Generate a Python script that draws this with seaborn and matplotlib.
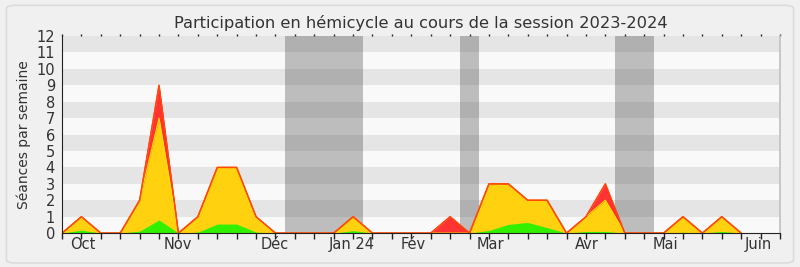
import matplotlib
matplotlib.use("Agg")
import matplotlib.pyplot as plt
import seaborn as sns
import pandas as pd
import numpy as np
from matplotlib.patches import FancyBboxPatch

# ---- data (weekly) ----
weeks = list(range(36))
total = [0, 1, 0, 0, 2, 9, 0, 1, 4, 4, 1, 0, 0, 0, 0, 1, 0, 0, 0, 0, 1, 0,
         3, 3, 2, 2, 0, 1, 3, 0, 0, 0, 1, 0, 1, 0]
yellow = [0, 1, 0, 0, 2, 7, 0, 1, 4, 4, 1, 0, 0, 0, 0, 1, 0, 0, 0, 0, 0, 0,
          3, 3, 2, 2, 0, 1, 2, 0, 0, 0, 1, 0, 1, 0]
green = [0, 0.18, 0, 0, 0.12, 0.8, 0, 0.06, 0.55, 0.55, 0.06, 0, 0, 0, 0, 0.15, 0, 0, 0, 0, 0, 0,
         0.16, 0.53, 0.65, 0.33, 0, 0.1, 0.1, 0, 0, 0, 0.05, 0, 0.1, 0]

month_labels = ["Oct", "Nov", "Déc", "Jan 24", "Fév", "Mar", "Avr", "Mai", "Juin"]
month_pos = [1.08, 5.97, 10.95, 14.92, 18.1, 22.1, 27.03, 31.1, 35.9]
vacations = [(11.5, 15.5), (20.5, 21.5), (28.5, 30.5)]

title = "Participation en hémicycle au cours de la session 2023-2024"
ylabel = "Séances par semaine"

df = pd.DataFrame({"week": weeks, "total": total, "yellow": yellow, "green": green})

sns.set_style("white")
plt.rcParams["font.family"] = ["DejaVu Sans"]

fig = plt.figure(figsize=(8, 2.67), dpi=100, facecolor="#f0f0f0")
fig.patches.append(FancyBboxPatch((0.008, 0.015), 0.984, 0.965, boxstyle="round,pad=0,rounding_size=0.012",
                                  transform=fig.transFigure, facecolor="#f0f0f0", edgecolor="#dcdcdc",
                                  linewidth=1.2, zorder=-10))
ax = fig.add_axes([0.0775, 0.127, 0.8975, 0.738])
ax.set_facecolor("#f9f9f9")
ax.xaxis.remove_overlapping_locs = False

# stripes
for k in range(12):
    ax.axhspan(k, k + 1, color="#e5e5e5" if k % 2 == 1 else "#f9f9f9", lw=0, zorder=0)
for a, b in vacations:
    ax.axvspan(a, b, color="#4e4e4e", alpha=0.35, lw=0, zorder=1)

x = df["week"].values
ax.fill_between(x, 0, df["total"], color="#ff3333", lw=0, zorder=2)
sns.lineplot(data=df, x="week", y="total", ax=ax, color="#ff1a1a", lw=1.0, zorder=5)
ax.fill_between(x, 0, df["yellow"], color="#ffd10f", lw=0, zorder=3)
sns.lineplot(data=df, x="week", y="yellow", ax=ax, color="#ffe000", lw=0.8, zorder=4)
ax.fill_between(x, 0, df["green"], color="#33f000", lw=0, zorder=4)
sns.lineplot(data=df, x="week", y="total", ax=ax, color="#ff5a00", lw=0.9, zorder=6, alpha=0.8)

ax.set_xlim(0, 37)
ax.set_ylim(0, 12)
ax.set_yticks(range(13))
ax.set_yticklabels([str(i) for i in range(13)], fontsize=10.5, color="#333333")
ax.set_xticks(range(38))
ax.set_xticklabels([])
ax.set_xticks(month_pos, minor=True)
ax.set_xticklabels(month_labels, minor=True, fontsize=10.5, color="#333333")
ax.tick_params(axis="x", which="major", direction="out", length=4, width=1, color="#222222",
               top=True, bottom=True)
ax.tick_params(axis="x", which="minor", length=0, pad=3)
ax.tick_params(axis="y", direction="out", length=4, width=1, color="#222222", pad=1)
for t in ax.xaxis.get_major_ticks():
    t.tick2line.set_markersize(1.5)

ax.spines["top"].set_visible(False)
ax.spines["right"].set_color("#c0c0c0")
ax.spines["right"].set_linewidth(1.2)
ax.spines["left"].set_color("#222222")
ax.spines["bottom"].set_color("#222222")
ax.spines["left"].set_zorder(7)
ax.spines["bottom"].set_zorder(7)

ax.set_xlabel("")
ax.set_ylabel(ylabel, fontsize=10, color="#333333", labelpad=4)
ax.set_title(title, fontsize=11.7, color="#333333", pad=6)

fig.savefig("out.png", dpi=100, facecolor=fig.get_facecolor())
